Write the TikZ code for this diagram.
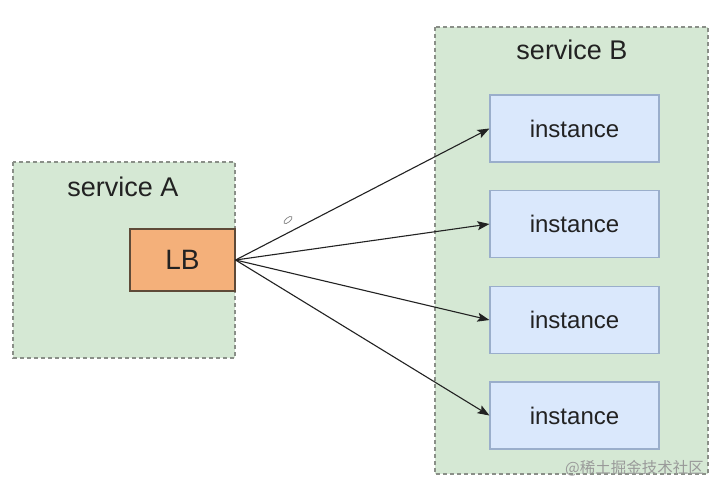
\documentclass[tikz,border=0pt]{standalone}
\usepackage{fontspec}
\setmainfont{Liberation Sans}
\newfontfamily\cjkfont{Noto Sans CJK SC}
\usetikzlibrary{arrows.meta}
\definecolor{grpfill}{HTML}{D5E8D4}
\definecolor{grpline}{HTML}{8A8F88}
\definecolor{lbfill}{HTML}{F4B07A}
\definecolor{lbline}{HTML}{5E4A38}
\definecolor{instfill}{HTML}{DAE8FC}
\definecolor{instline}{HTML}{9AAECB}
\definecolor{wmark}{HTML}{9A9A9A}
\definecolor{txt}{HTML}{222222}
\tikzset{
  group/.style={draw=grpline, fill=grpfill, dash pattern=on 4pt off 3pt, line width=1.2pt},
  lbbox/.style={draw=lbline, fill=lbfill, line width=1.1pt, minimum width=105pt, minimum height=62pt, inner sep=0pt, text=txt, font=\fontsize{28}{32}\selectfont},
  instbox/.style={draw=instline, fill=instfill, line width=1.1pt, minimum width=169pt, minimum height=67pt, inner sep=0pt, text=txt, font=\fontsize{24}{28}\selectfont},
  grplabel/.style={font=\fontsize{27}{31}\selectfont, inner sep=0pt, text=txt},
  link/.style={draw=txt, line width=1.1pt, -{Stealth[length=12pt,width=9pt,inset=2.5pt]}}
}
\begin{document}
\begin{tikzpicture}[x=1pt,y=-1pt]
\useasboundingbox (0,0) rectangle (717,490);
\fill[white] (0,0) rectangle (717,490);
% groups
\draw[group] (13,162) rectangle (235,358);
\draw[group] (435,27) rectangle (708,474);
\node[grplabel] (sa) at (123,187) {service A};
\node[grplabel] (sb) at (572,50) {service B};
% LB
\node[lbbox] (lb) at (182.5,260) {LB};
% instances
\node[instbox] (i1) at (574.5,128.5) {instance};
\node[instbox] (i2) at (574.5,224) {instance};
\node[instbox] (i3) at (574.5,320) {instance};
\node[instbox] (i4) at (574.5,415.5) {instance};
% links
\foreach \t in {i1,i2,i3,i4}
  \draw[link] (lb.east) -- (\t.west);
% small mark
\draw[gray, line width=0.7pt, rotate around={40:(288,220)}] (288,220) ellipse (5pt and 2.2pt);
% watermark
\node[text=wmark, font=\cjkfont\fontsize{15.5}{18}\selectfont, anchor=east, inner sep=0pt] (wm) at (704,468) {@稀土掘金技术社区};
\end{tikzpicture}
\end{document}
